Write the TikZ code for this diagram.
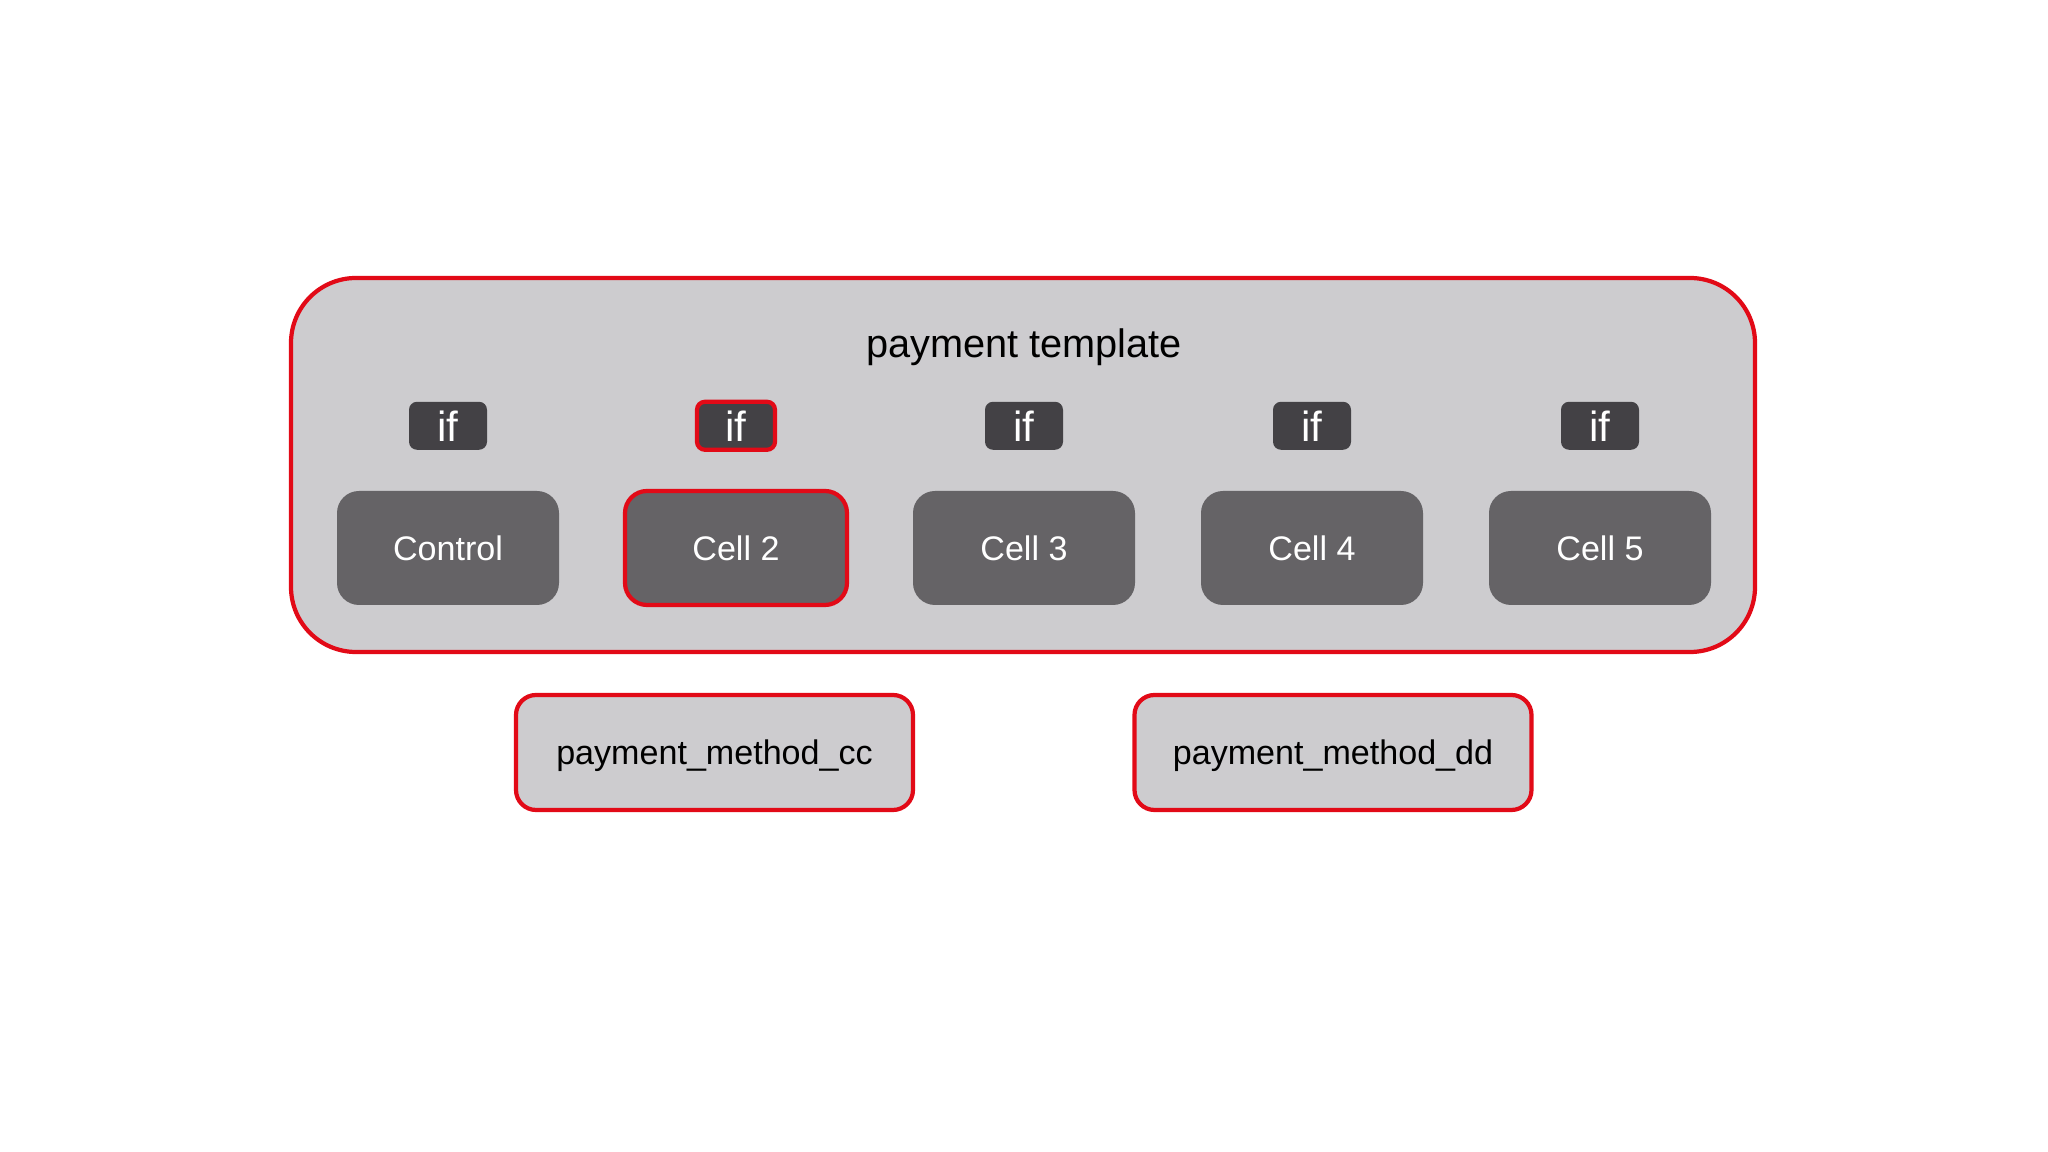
\documentclass[tikz,border=0pt]{standalone}
\usepackage{fontspec}
\setmainfont{Liberation Sans}
\usepackage{xcolor}
\usetikzlibrary{positioning}

\definecolor{pRed}{HTML}{E20A17}
\definecolor{pLight}{HTML}{CDCCCF}
\definecolor{pCell}{HTML}{656366}
\definecolor{pDark}{HTML}{434145}

\begin{document}
\begin{tikzpicture}[
   template/.style={draw=pRed,line width=1.2pt,fill=pLight,rounded corners=0.65cm,
      minimum width=14.64cm,minimum height=3.74cm},
   cellbox/.style={fill=pCell,rounded corners=0.22cm,line width=1.2pt,
      minimum width=2.22cm,minimum height=1.14cm,text=white,font=\fontsize{9.7}{12}\selectfont},
   ifbox/.style={fill=pDark,rounded corners=0.08cm,line width=1.2pt,
      minimum width=0.78cm,minimum height=0.48cm,inner sep=0pt,text=white,font=\fontsize{12}{14}\selectfont},
   methodbox/.style={draw=pRed,line width=1.2pt,fill=pLight,rounded corners=0.2cm,
      minimum width=3.97cm,minimum height=1.15cm,text depth=0pt,font=\fontsize{9.7}{12}\selectfont}]
\useasboundingbox (0,0) rectangle (20.48,11.52);

\node[template] (tmpl) at (10.23,6.87) {};
\node[font=\fontsize{11.3}{14}\selectfont] (title) at (10.24,8.045) {payment template};

% cells with their if conditions
\foreach \i/\lab/\edge in {1/Control/none, 2/Cell 2/pRed, 3/Cell 3/none, 4/Cell 4/none, 5/Cell 5/none}{
   \node[cellbox,draw=\edge] (cell\i) at ({4.48+2.88*(\i-1)},6.04) {\lab};
   \node[ifbox,draw=\edge,above=0.37cm of cell\i] (if\i) {if};
}

\node[methodbox] (cc) at (7.145,3.995) {payment\_method\_cc};
\node[methodbox] (dd) at (13.33,3.995) {payment\_method\_dd};
\end{tikzpicture}
\end{document}
